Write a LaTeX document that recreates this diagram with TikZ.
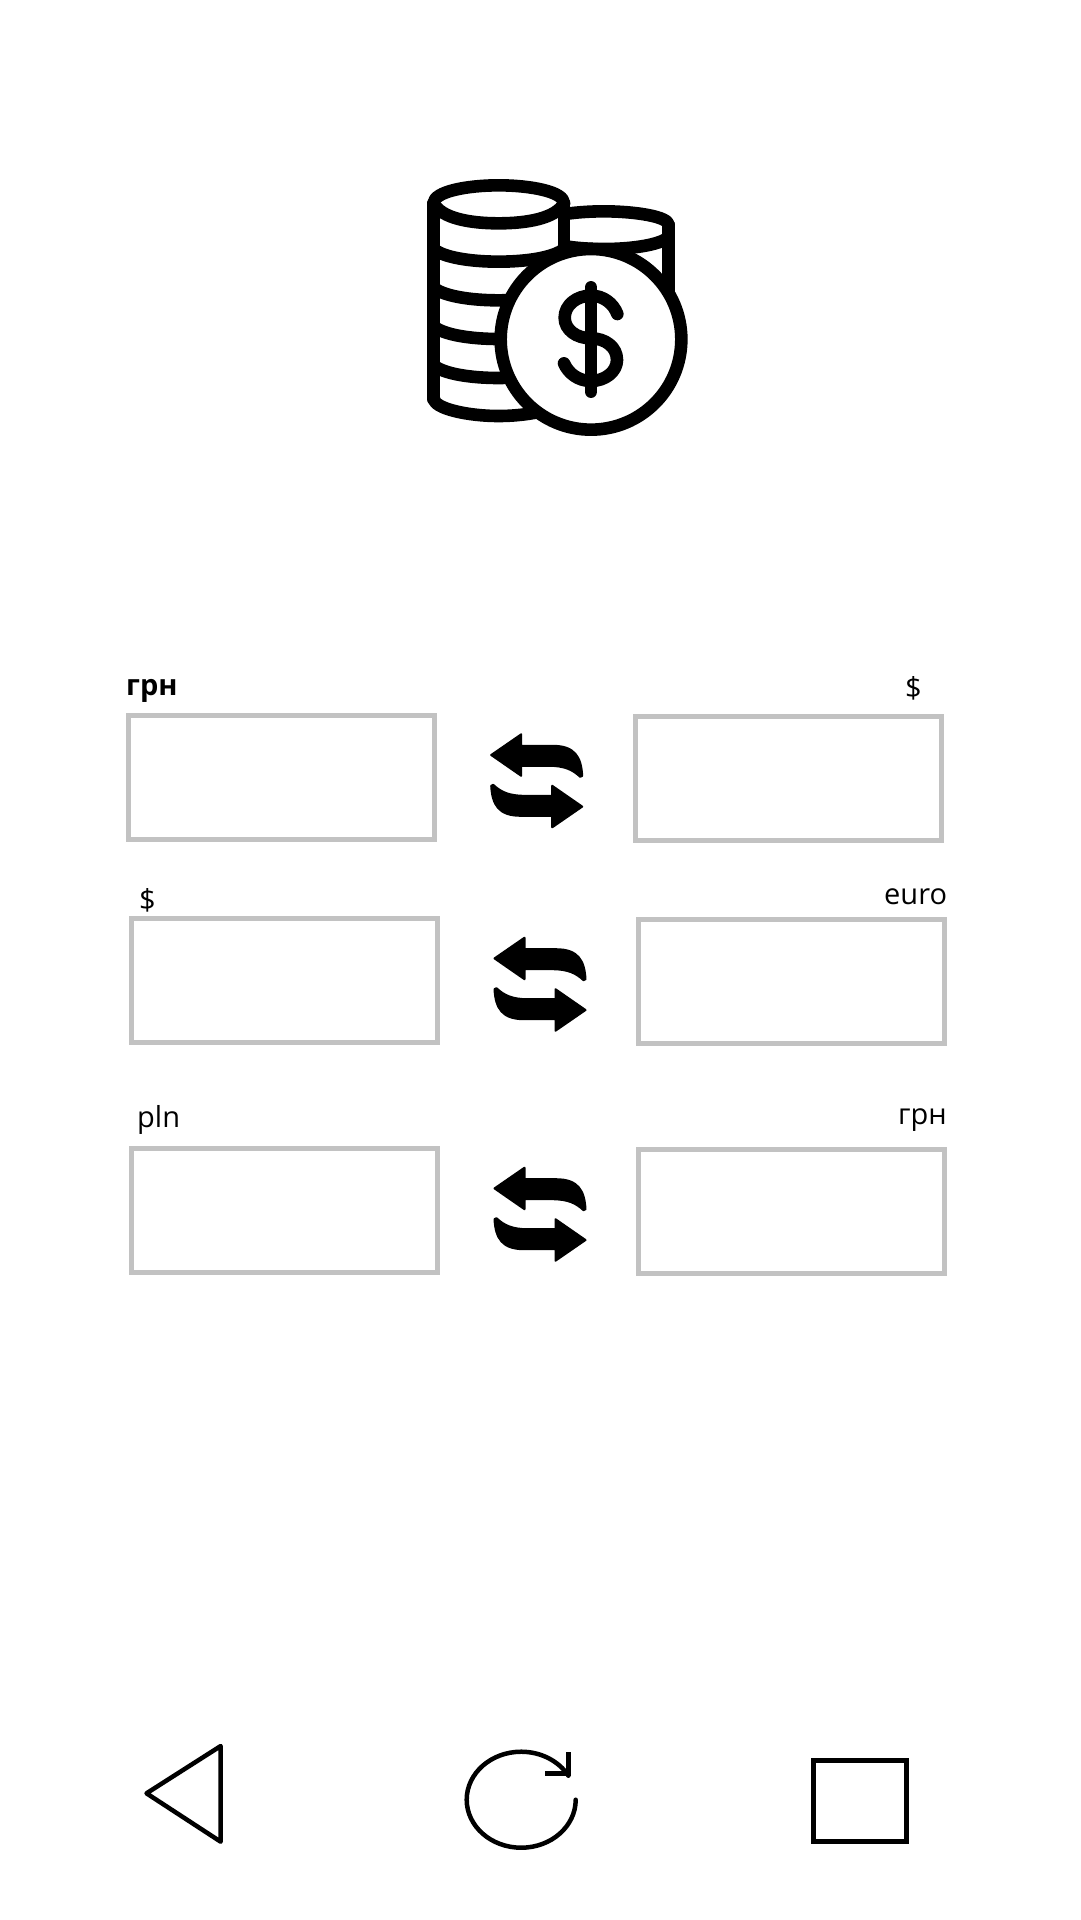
\documentclass[tikz,border=0pt]{standalone}
\usepackage{fontspec}
\setmainfont{Open Sans}

\tikzset{
  pics/swaparrow/.style={code={
    \fill[draw=black,line width=2pt,line join=round]
      (-45.5,-25.8) -- (-15.5,-46.5) -- (-15.5,-35) -- (16,-35)
      .. controls (38,-35) and (44.5,-24) .. (45.5,-5)
      -- (43.5,-4)
      .. controls (36,-11) and (28,-15) .. (12,-15)
      -- (-15.5,-15) -- (-15.5,-5) -- cycle;
    \fill[draw=black,line width=2pt,line join=round,rotate=180]
      (-45.5,-25.8) -- (-15.5,-46.5) -- (-15.5,-35) -- (16,-35)
      .. controls (38,-35) and (44.5,-24) .. (45.5,-5)
      -- (43.5,-4)
      .. controls (36,-11) and (28,-15) .. (12,-15)
      -- (-15.5,-15) -- (-15.5,-5) -- cycle;
  }}
}

\begin{document}
\begin{tikzpicture}[x=1pt,y=-1pt,
    field/.style={rectangle,draw=black!24,line width=5pt,minimum width=305.7pt,minimum height=124pt,inner sep=0pt},
    caption/.style={anchor=base west,inner sep=0pt,font=\fontsize{29}{32}\selectfont},
    coinline/.style={line width=12.6pt,line cap=round,line join=round},
    navline/.style={line width=4.5pt,line join=round,line cap=round}]
  \useasboundingbox (0,0) rectangle (1080,1920);

  \begin{scope}[shift={(400,150)},scale=1/3]
    \draw[coinline] (416,225) .. controls (416,200) and (515,184) .. (611,184)
      .. controls (707,184) and (806,200) .. (806,225);
    \draw[coinline] (416,262) .. controls (445,285) and (525,297) .. (611,297)
      .. controls (697,297) and (777,285) .. (806,262);
    \draw[coinline] (806,225) -- (806,420);
    \fill[white] (101,160) .. controls (101,125) and (200,106) .. (296,106)
      .. controls (392,106) and (492,125) .. (492,160)
      -- (492,748) -- (101,748) -- cycle;
    \draw[coinline] (101,160) .. controls (101,125) and (200,106) .. (296,106)
      .. controls (392,106) and (492,125) .. (492,160);
    \draw[coinline] (101,160) -- (101,748);
    \draw[coinline] (492,160) -- (492,297);
    \draw[coinline] (101,160) .. controls (125,205) and (210,220) .. (296,220)
      .. controls (382,220) and (467,205) .. (492,160);
    \draw[coinline] (101,297) .. controls (130,322) and (210,335) .. (296,335)
      .. controls (382,335) and (462,322) .. (492,297);
    \draw[coinline] (101,413) .. controls (130,438) and (210,451) .. (296,451)
      .. controls (340,451) and (380,447) .. (400,440);
    \draw[coinline] (101,529) .. controls (130,554) and (210,567) .. (296,567)
      .. controls (340,567) and (380,563) .. (400,556);
    \draw[coinline] (101,646) .. controls (130,671) and (210,684) .. (296,684)
      .. controls (340,684) and (380,680) .. (400,673);
    \draw[coinline] (101,745) .. controls (101,775) and (200,798) .. (296,798)
      .. controls (392,798) and (492,775) .. (492,745);
    \draw[coinline,fill=white] (573,568) circle[radius=271];
    \draw[coinline] (573,412) -- (573,725);
    \draw[coinline] (652,492) .. controls (640,460) and (610,437) .. (573,437)
      .. controls (530,437) and (494,465) .. (494,503)
      .. controls (494,540) and (530,565) .. (573,565)
      .. controls (615,565) and (651,590) .. (651,630)
      .. controls (651,665) and (615,693) .. (573,693)
      .. controls (535,693) and (505,670) .. (492,640);
  \end{scope}

  \node[field](uahleft)    at (281.4,777.5)  {};
  \node[field](usdright)   at (788.3,778.3)  {};
  \node[field](usdleft)    at (284.5,980.3)  {};
  \node[field](euroright)  at (791.3,981.3)  {};
  \node[field](plnleft)    at (284.5,1210.3) {};
  \node[field](uahright)   at (791.3,1211.3) {};

  \node[caption,font=\fontsize{29}{32}\selectfont\bfseries](uahlefttext) at (126,695) {грн};
  \node[caption](usdrighttext)  at (905,698)   {\$};
  \node[caption](usdlefttext)   at (139,910)   {\$};
  \node[caption](eurorighttext) at (884,904)   {euro};
  \node[caption](plnlefttext)   at (137,1127)  {pln};
  \node[caption](uahrighttext)  at (898,1124)  {грн};

  \pic at (536.7,780.8)  {swaparrow};
  \pic at (540,984.2)    {swaparrow};
  \pic at (540,1214.2)   {swaparrow};

  \draw[navline] (146.5,1793.3) -- (220.7,1746) -- (220.7,1841.7) -- cycle;
  \draw[navline] (575.7,1799.7) arc[start angle=0,end angle=330,x radius=54.5,y radius=48];
  \draw[line width=4.5pt,line join=miter] (568.3,1752) -- (568.3,1773.3) -- (545,1773.3);
  \node[rectangle,draw=black,line width=5pt,minimum width=93.4pt,minimum height=81.4pt,inner sep=0pt](homebox) at (860,1801) {};
\end{tikzpicture}
\end{document}
